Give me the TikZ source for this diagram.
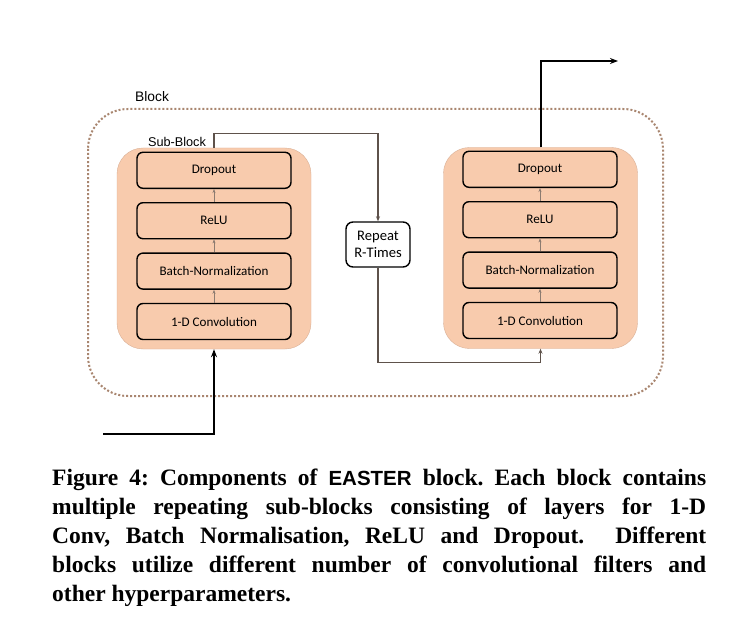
\documentclass[tikz,border=0pt]{standalone}
\usepackage{fontspec}
\setmainfont{Liberation Serif}
\newfontfamily\layerfont{Carlito}
\newfontfamily\labelfont{Liberation Sans}
\usetikzlibrary{arrows.meta,positioning}
\definecolor{CPeach}{HTML}{F8CBAD}
\definecolor{CPeachEdge}{HTML}{D9B096}
\definecolor{CDots}{HTML}{A98670}
\definecolor{CLoop}{HTML}{5E524B}
\definecolor{CLink}{HTML}{8C7B70}

\tikzset{
  blockframe/.style={draw=CDots, line width=2pt, dotted, rounded corners=40pt},
  subblock/.style={draw=CPeachEdge, fill=CPeach, rounded corners=26pt,
    minimum width=194pt, minimum height=201pt, inner sep=0pt},
  layer/.style={draw=black, line width=1.4pt, fill=CPeach, rounded corners=6pt,
    minimum width=154pt, minimum height=36pt, inner sep=0pt,
    font=\layerfont\fontsize{13.1}{15}\selectfont},
  repeatbox/.style={draw=black, line width=1.4pt, fill=white, rounded corners=7pt,
    minimum width=64pt, minimum height=45pt, inner sep=0pt, align=center,
    font=\layerfont\fontsize{14.6}{17.5}\selectfont},
  link/.style={CLink, line width=0.6pt, -{Stealth[length=4pt,width=3pt]}},
  flow/.style={black, line width=2pt, -{Stealth[length=8pt,width=6pt]}},
  loopline/.style={CLoop, line width=1.2pt, -{Stealth[length=5pt,width=4pt]}},
}

\begin{document}
\frenchspacing
\begin{tikzpicture}[x=1pt, y=-1pt]
  \fill[white] (0,0) rectangle (732,626);
  \useasboundingbox (0,0) rectangle (732,626);

  % ============================================
  % Outer block frame
  % ============================================
  \draw[blockframe] (88,109) rectangle (663,396);
  \node[font=\labelfont\fontsize{13.8}{16}\selectfont, anchor=west, inner sep=0pt] (blocklabel) at (135,97) {Block};

  % ============================================
  % Left sub-block
  % ============================================
  \node[subblock] (subL) at (214,248.5) {};
  \node[font=\labelfont\fontsize{12.7}{15}\selectfont, anchor=south, inner sep=1pt] (sublabel) at (177,148) {Sub-Block};

  \node[layer] (convL) at (214,321.5) {1-D Convolution};
  \node[layer, above=13pt of convL] (bnL) {Batch-Normalization};
  \node[layer, above=13pt of bnL] (reluL) {ReLU};
  \node[layer, above=13pt of reluL] (dropL) {Dropout};

  \draw[link] (convL) -- (bnL);
  \draw[link] (bnL) -- (reluL);
  \draw[link] (reluL) -- (dropL);

  % ============================================
  % Right sub-block
  % ============================================
  \node[subblock] (subR) at (540.5,248) {};

  \node[layer] (convR) at (540,320.5) {1-D Convolution};
  \node[layer, above=13pt of convR] (bnR) {Batch-Normalization};
  \node[layer, above=13pt of bnR] (reluR) {ReLU};
  \node[layer, above=13pt of reluR] (dropR) {Dropout};

  \draw[link] (convR) -- (bnR);
  \draw[link] (bnR) -- (reluR);
  \draw[link] (reluR) -- (dropR);

  % Repeat box and loop
  \node[repeatbox] (rep) at (378,244.5) {Repeat\\R-Times};
  \draw[loopline] (subL.north) -- ++(0,-14) -| (rep.north);
  \draw[loopline] (rep.south) -- ++(0,95) -| (subR.south);

  % Input and output
  \coordinate (in) at (103,434);
  \coordinate (out) at (618,61);
  \draw[flow] (in) -| (subL.south);
  \draw[flow] (subR.north) |- (out);

  % ============================================
  % Caption
  % ============================================
  \node[anchor=north west, inner sep=0pt, text width=654pt, align=justify,
    font=\bfseries\fontsize{23.5}{29}\selectfont] (caption) at (52,469)
    {Figure 4: Components of {\labelfont\fontsize{20.5}{29}\selectfont EASTER} block. Each block contains\linebreak
     multiple repeating sub-blocks consisting of layers for 1-D\linebreak
     Conv, Batch Normalisation, ReLU and Dropout.\ \ Different\linebreak
     blocks utilize different number of convolutional filters and\linebreak
     other hyperparameters.};
\end{tikzpicture}
\end{document}
